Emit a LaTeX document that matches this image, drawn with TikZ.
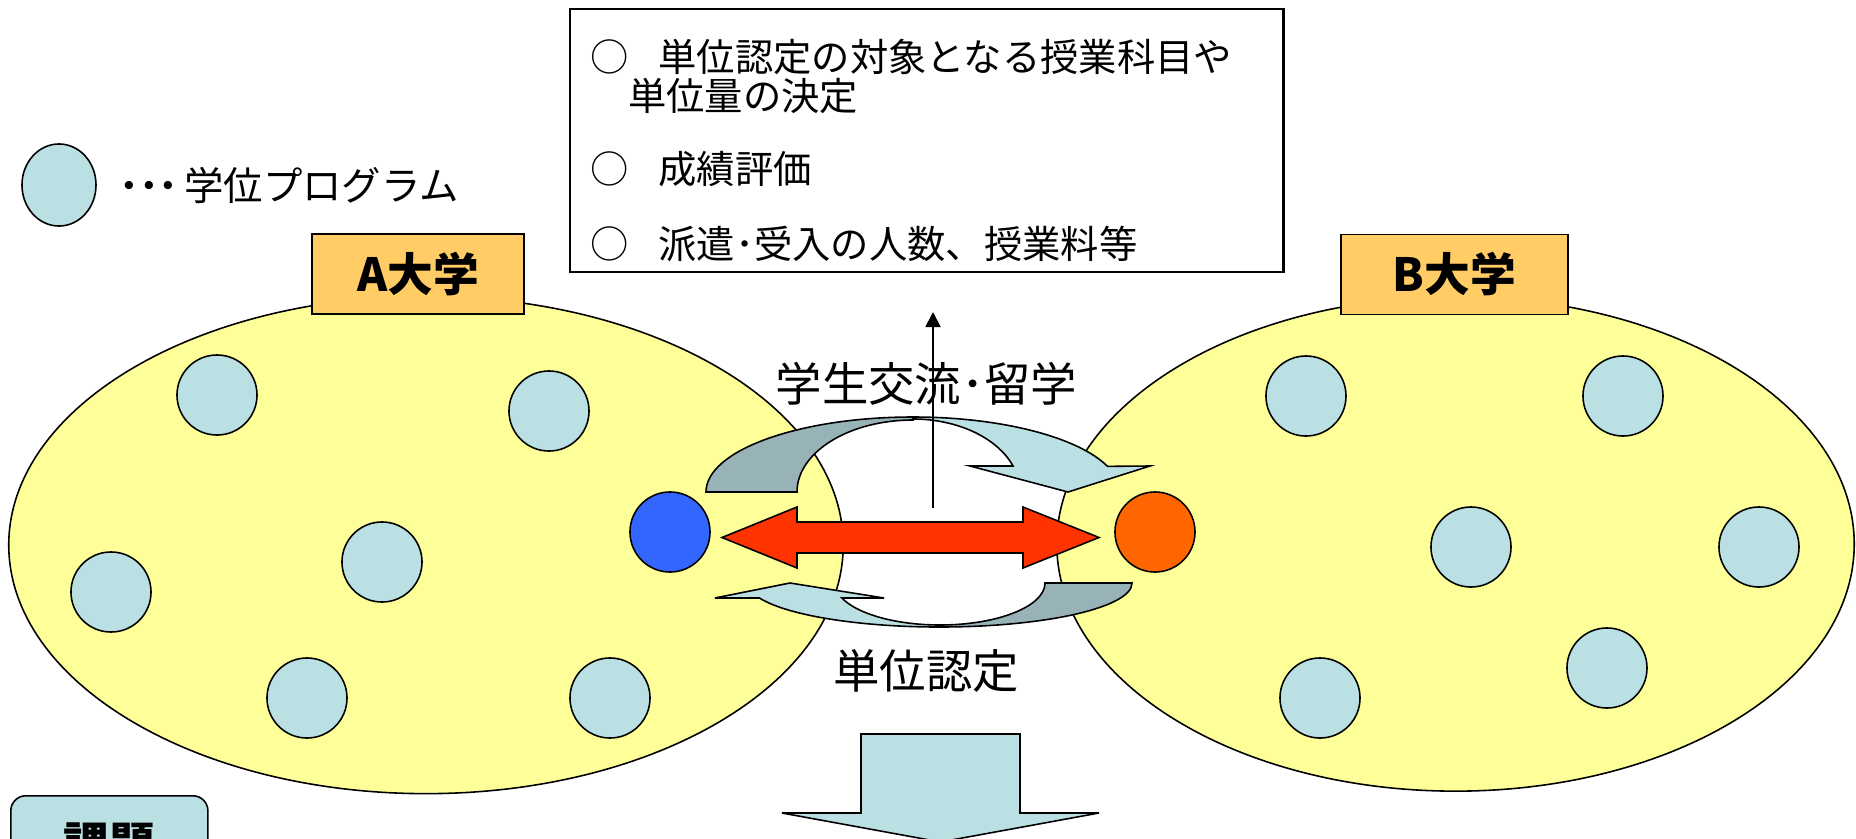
\documentclass[tikz,border=0pt]{standalone}
\usepackage{fontspec}
\newfontfamily\jp{Noto Sans CJK JP}
\usetikzlibrary{positioning}
\usetikzlibrary{shapes.geometric,arrows.meta}

\definecolor{campusyellow}{HTML}{FFFF99}
\definecolor{progfill}{HTML}{BBE0E3}
\definecolor{bandback}{HTML}{97B3B7}
\definecolor{tagfill}{HTML}{FFCC66}
\definecolor{sendblue}{HTML}{3366FF}
\definecolor{recvorange}{HTML}{FF6600}
\definecolor{swapred}{HTML}{FF3300}

\begin{document}
\begin{tikzpicture}[x=0.01cm, y=0.01cm, line width=0.45pt, font=\jp,
campus/.style={ellipse, draw, fill=campusyellow, inner sep=0},
prog/.style={ellipse, draw, fill=progfill, minimum width=8mm, minimum height=8mm, inner sep=0},
tag/.style={rectangle, draw, fill=tagfill, minimum height=8mm, inner sep=0, font=\jp\bfseries\fontsize{13pt}{15pt}\selectfont},
big/.style={font=\jp\fontsize{13.2pt}{15pt}\selectfont},
small/.style={font=\jp\fontsize{10.9pt}{11.06pt}\selectfont},
]
\useasboundingbox (0,0) rectangle (1856,-839);
\clip (0,0) rectangle (1856,-839);

% the two universities
\node[campus, minimum width=8.34cm, minimum height=4.97cm] (univA) at (426,-545) {};
\node[campus, minimum width=7.97cm, minimum height=4.94cm] (univB) at (1455.5,-544) {};
\node[tag, minimum width=2.12cm] (tagA) at (418,-274) {A大学};
\node[tag, minimum width=2.27cm] (tagB) at (1454.5,-274.5) {B大学};

% degree programmes
\foreach \p/\x/\y in {a1/217/395, a2/549/411, a3/382/562, a4/111/592, a5/307/698, a6/610/698,
                      b1/1306/396, b2/1623/396, b3/1471/547, b4/1759/547, b5/1320/698, b6/1607/668}
  \node[prog] (\p) at (\x,-\y) {};

% legend
\node[prog, minimum width=7.4mm, minimum height=8.2mm] (legend) at (59,-185) {};
\node[small, font=\jp\fontsize{11.2pt}{12pt}\selectfont, right=1mm of legend] (legendtxt)
  {\textbf{･･･}\hspace{0.06cm}学位プログラム};

% what has to be agreed
\node[draw, line width=0.6pt, small, anchor=north west, align=left, text width=6.73cm,
      inner xsep=0.2cm, inner ysep=0.1cm] (tasks) at (569,-8)
  {\rule{0pt}{0.525cm}○\hspace{0.3cm}単位認定の対象となる授業科目や\\
   \hspace{0.38cm}単位量の決定\\[0.34cm]
   ○\hspace{0.3cm}成績評価\\[0.36cm]
   ○\hspace{0.3cm}派遣･受入の人数、授業料等};

% exchange loop, upper half
\filldraw[fill=bandback] (706,-492) arc[start angle=180, end angle=90, x radius=207, y radius=75]
  -- (913,-420) arc[start angle=90, end angle=180, x radius=116, y radius=72] -- cycle;
\filldraw[fill=progfill] (913,-417) arc[start angle=90, end angle=20, x radius=207, y radius=75]
  -- (1150,-466) -- (1068,-492) -- (970,-466) -- (1013,-466)
  arc[start angle=20.3, end angle=90, x radius=107, y radius=72] -- cycle;

% exchange loop, lower half
\filldraw[fill=bandback] (940,-627) arc[start angle=270, end angle=360, x radius=192, y radius=44]
  -- (1045,-583) arc[start angle=0, end angle=-90, x radius=105, y radius=42] -- cycle;
\filldraw[fill=progfill] (759.5,-598) arc[start angle=199.9, end angle=270, x radius=192, y radius=44]
  -- (940,-625) arc[start angle=270, end angle=200.9, x radius=105, y radius=42]
  -- (884,-598) -- (790,-583) -- (715,-598) -- cycle;

% the two students
\node[circle, draw, fill=sendblue, minimum size=8mm, inner sep=0] (send) at (670,-532) {};
\node[circle, draw, fill=recvorange, minimum size=8mm, inner sep=0] (recv) at (1155,-532) {};
\filldraw[fill=swapred] (722,-537.5) -- (797,-507) -- (797,-522) -- (1023,-522) -- (1023,-507)
  -- (1099,-537.5) -- (1023,-568) -- (1023,-553) -- (797,-553) -- (797,-568) -- cycle;

\coordinate (up0) at (933,-508);
\coordinate (up1) at (933,-312);
\draw[line width=0.5pt, -{Triangle[width=0.15cm, length=0.15cm]}] (up0) -- (up1);

\node[big] (flow) at (926.5,-384) {学生交流･留学};
\node[big] (credit) at (926,-671) {単位認定};

% result
\filldraw[fill=progfill] (861,-734) -- (1020,-734) -- (1020,-813) -- (1099,-813) -- (940.5,-842)
  -- (782,-813) -- (861,-813) -- cycle;
\node[draw, fill=progfill, rounded corners=0.15cm, anchor=north west, minimum width=1.97cm, minimum height=0.96cm,
      font=\jp\bfseries\fontsize{13pt}{15pt}\selectfont] (issue) at (10,-795) {課題};
\end{tikzpicture}
\end{document}
